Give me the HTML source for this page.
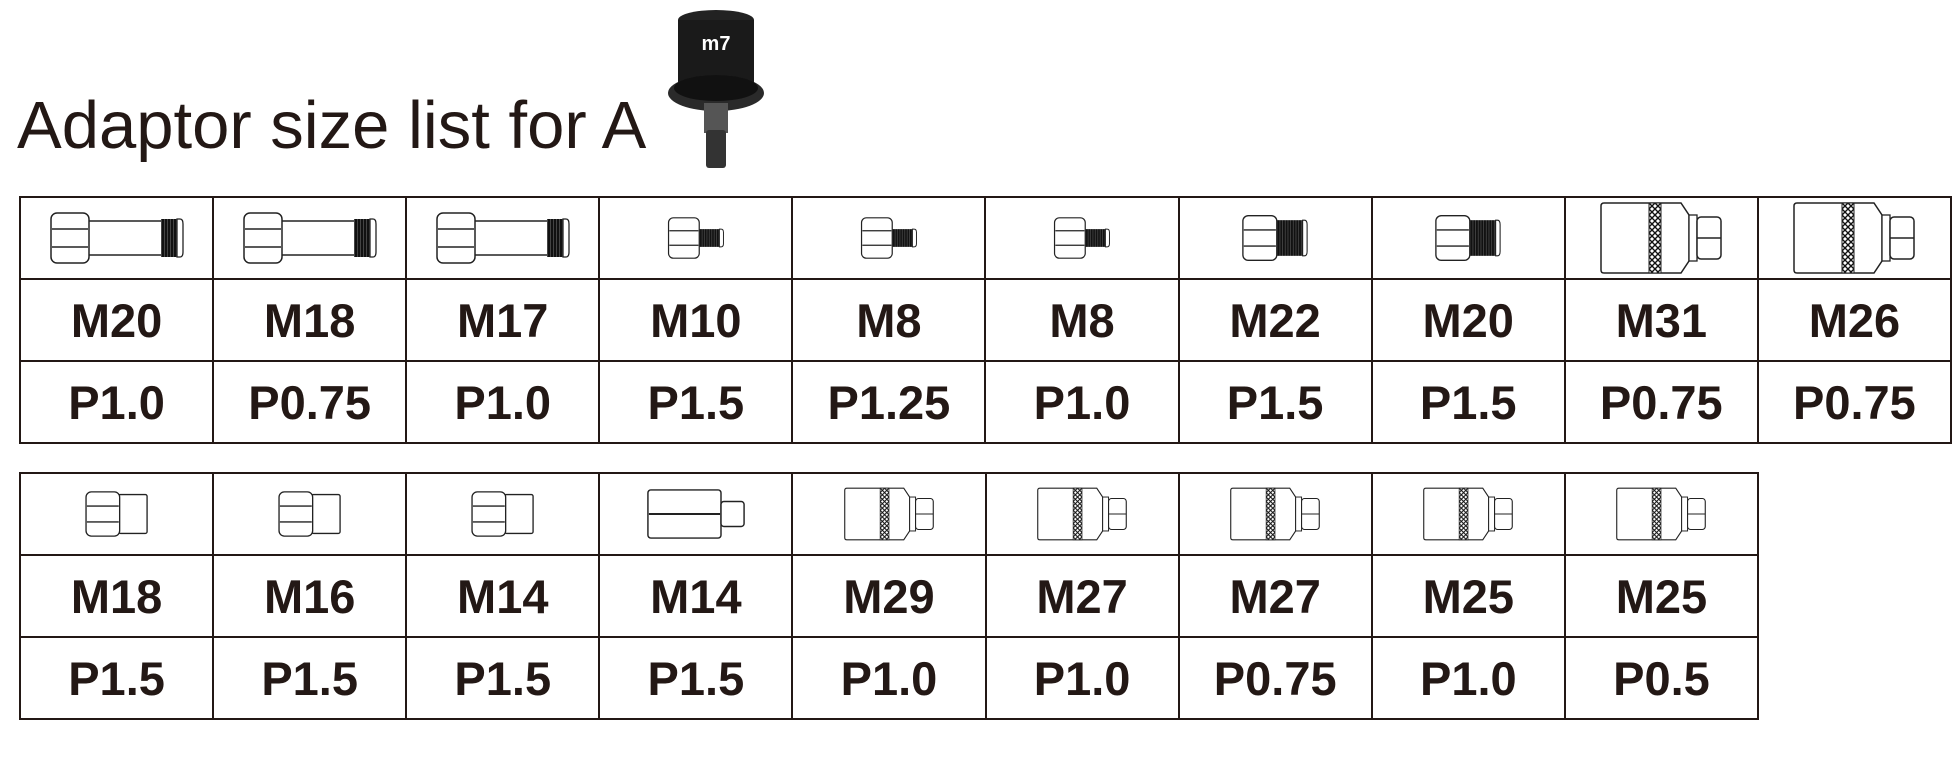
<!DOCTYPE html>
<html><head><meta charset="utf-8">
<style>
body{margin:0;width:1959px;height:768px;background:#fff;position:relative;overflow:hidden;font-family:"Liberation Sans",Arial,sans-serif;color:#231815}
.title{position:absolute;left:17px;top:88px;font-size:67px;line-height:76px;white-space:nowrap}
table{position:absolute;border-collapse:collapse;table-layout:fixed}
td{border:2px solid #231815;padding:0;text-align:center;vertical-align:middle;font-weight:bold;font-size:47px;height:80px;width:191px}
td svg{display:block;margin:auto}
#t1{left:19px;top:196px;width:1933px}
#t2{left:19px;top:472px;width:1740px}
</style></head><body>
<svg width="0" height="0" style="position:absolute">
<defs>
<pattern id="kn" width="6" height="6" patternUnits="userSpaceOnUse"><rect width="6" height="6" fill="#fff"/><path d="M0 0L6 6M6 0L0 6" stroke="#111" stroke-width="1.4"/></pattern>
<pattern id="th" width="3" height="10" patternUnits="userSpaceOnUse"><rect width="3" height="10" fill="#111"/><line x1="2.5" y1="0" x2="2.5" y2="10" stroke="#666" stroke-width="0.6"/></pattern>
<g id="hex"><rect x="0" y="0" width="38" height="50" rx="6" fill="#fff" stroke="#222" stroke-width="1.5"/><line x1="1" y1="16" x2="37" y2="16" stroke="#222" stroke-width="1.5"/><line x1="1" y1="34" x2="37" y2="34" stroke="#222" stroke-width="1.5"/></g>
<g id="long"><rect x="37" y="8" width="74" height="34" fill="#fff" stroke="#222" stroke-width="1.5"/><rect x="110" y="6" width="16" height="38" fill="url(#th)"/><path d="M126 6h3q3 0 3 5v28q0 5-3 5h-3z" fill="#fff" stroke="#222" stroke-width="1.3"/><use href="#hex"/></g>
<g id="short"><rect x="37" y="14" width="26" height="22" fill="url(#th)"/><path d="M63 14h2q3 0 3 4v14q0 4-3 4h-2z" fill="#fff" stroke="#222" stroke-width="1.2"/><use href="#hex"/></g>
<g id="fat"><rect x="37" y="5" width="30" height="40" fill="url(#th)"/><path d="M67 5h2q3 0 3 5v30q0 5-3 5h-2z" fill="#fff" stroke="#222" stroke-width="1.2"/><use href="#hex"/></g>
<g id="nut"><rect x="37" y="3" width="32" height="44" rx="2" fill="#fff" stroke="#222" stroke-width="1.5"/><use href="#hex"/></g>
<g id="lnut"><rect x="0" y="0" width="76" height="50" rx="3" fill="#fff" stroke="#222" stroke-width="1.5"/><line x1="1" y1="25" x2="75" y2="25" stroke="#222" stroke-width="2"/><rect x="76" y="12" width="24" height="26" rx="3" fill="#fff" stroke="#222" stroke-width="1.5"/></g>
<g id="knurl"><path d="M3 0h77l8 12v46l-8 12h-77q-3 0-3-3v-64q0-3 3-3z" fill="#fff" stroke="#222" stroke-width="1.5"/><rect x="48" y="0" width="12" height="70" fill="url(#kn)" stroke="#222" stroke-width="1"/><rect x="88" y="12" width="8" height="46" fill="#fff" stroke="#222" stroke-width="1.3"/><rect x="96" y="14" width="24" height="42" rx="4" fill="#fff" stroke="#222" stroke-width="1.5"/><line x1="96" y1="35" x2="120" y2="35" stroke="#222" stroke-width="1.5"/></g>
</defs></svg>
<div class="title">Adaptor size list for A</div>
<svg style="position:absolute;left:666px;top:8px" width="102" height="162" viewBox="0 0 102 162">
<ellipse cx="50" cy="12" rx="38" ry="10" fill="#222"/>
<rect x="12" y="12" width="76" height="70" fill="#1a1a1a"/>
<ellipse cx="50" cy="85" rx="48" ry="18" fill="#2a2a2a"/>
<ellipse cx="50" cy="80" rx="42" ry="13" fill="#111"/>
<text x="50" y="42" fill="#fff" font-size="20" font-weight="bold" text-anchor="middle" font-family="Liberation Sans">m7</text>
<rect x="38" y="95" width="24" height="30" fill="#555"/>
<rect x="40" y="122" width="20" height="38" rx="3" fill="#333"/>
</svg>
<table id="t1">
<tr>
<td><svg width="134" height="52" viewBox="-1 -1 134 52"><use href="#long"/></svg></td>
<td><svg width="134" height="52" viewBox="-1 -1 134 52"><use href="#long"/></svg></td>
<td><svg width="134" height="52" viewBox="-1 -1 134 52"><use href="#long"/></svg></td>
<td><svg width="62" height="42" viewBox="-1 -1 70 52"><use href="#short"/></svg></td>
<td><svg width="62" height="42" viewBox="-1 -1 70 52"><use href="#short"/></svg></td>
<td><svg width="62" height="42" viewBox="-1 -1 70 52"><use href="#short"/></svg></td>
<td><svg width="66" height="48" viewBox="-1 -1 74 52"><use href="#fat"/></svg></td>
<td><svg width="66" height="48" viewBox="-1 -1 74 52"><use href="#fat"/></svg></td>
<td><svg width="124" height="72" viewBox="-1 -1 122 72"><use href="#knurl"/></svg></td>
<td><svg width="124" height="72" viewBox="-1 -1 122 72"><use href="#knurl"/></svg></td>
</tr>
<tr><td>M20</td><td>M18</td><td>M17</td><td>M10</td><td>M8</td><td>M8</td><td>M22</td><td>M20</td><td>M31</td><td>M26</td></tr>
<tr><td>P1.0</td><td>P0.75</td><td>P1.0</td><td>P1.5</td><td>P1.25</td><td>P1.0</td><td>P1.5</td><td>P1.5</td><td>P0.75</td><td>P0.75</td></tr>
</table>
<table id="t2">
<tr>
<td><svg width="66" height="46" viewBox="-1 -1 72 52"><use href="#nut"/></svg></td>
<td><svg width="66" height="46" viewBox="-1 -1 72 52"><use href="#nut"/></svg></td>
<td><svg width="66" height="46" viewBox="-1 -1 72 52"><use href="#nut"/></svg></td>
<td><svg width="102" height="50" viewBox="-1 -1 102 52"><use href="#lnut"/></svg></td>
<td><svg width="90" height="64" viewBox="-1 -1 122 72"><use href="#knurl"/></svg></td>
<td><svg width="90" height="64" viewBox="-1 -1 122 72"><use href="#knurl"/></svg></td>
<td><svg width="90" height="64" viewBox="-1 -1 122 72"><use href="#knurl"/></svg></td>
<td><svg width="90" height="64" viewBox="-1 -1 122 72"><use href="#knurl"/></svg></td>
<td><svg width="90" height="68" viewBox="-1 -1 122 72"><use href="#knurl"/></svg></td>
</tr>
<tr><td>M18</td><td>M16</td><td>M14</td><td>M14</td><td>M29</td><td>M27</td><td>M27</td><td>M25</td><td>M25</td></tr>
<tr><td>P1.5</td><td>P1.5</td><td>P1.5</td><td>P1.5</td><td>P1.0</td><td>P1.0</td><td>P0.75</td><td>P1.0</td><td>P0.5</td></tr>
</table>
</body></html>
